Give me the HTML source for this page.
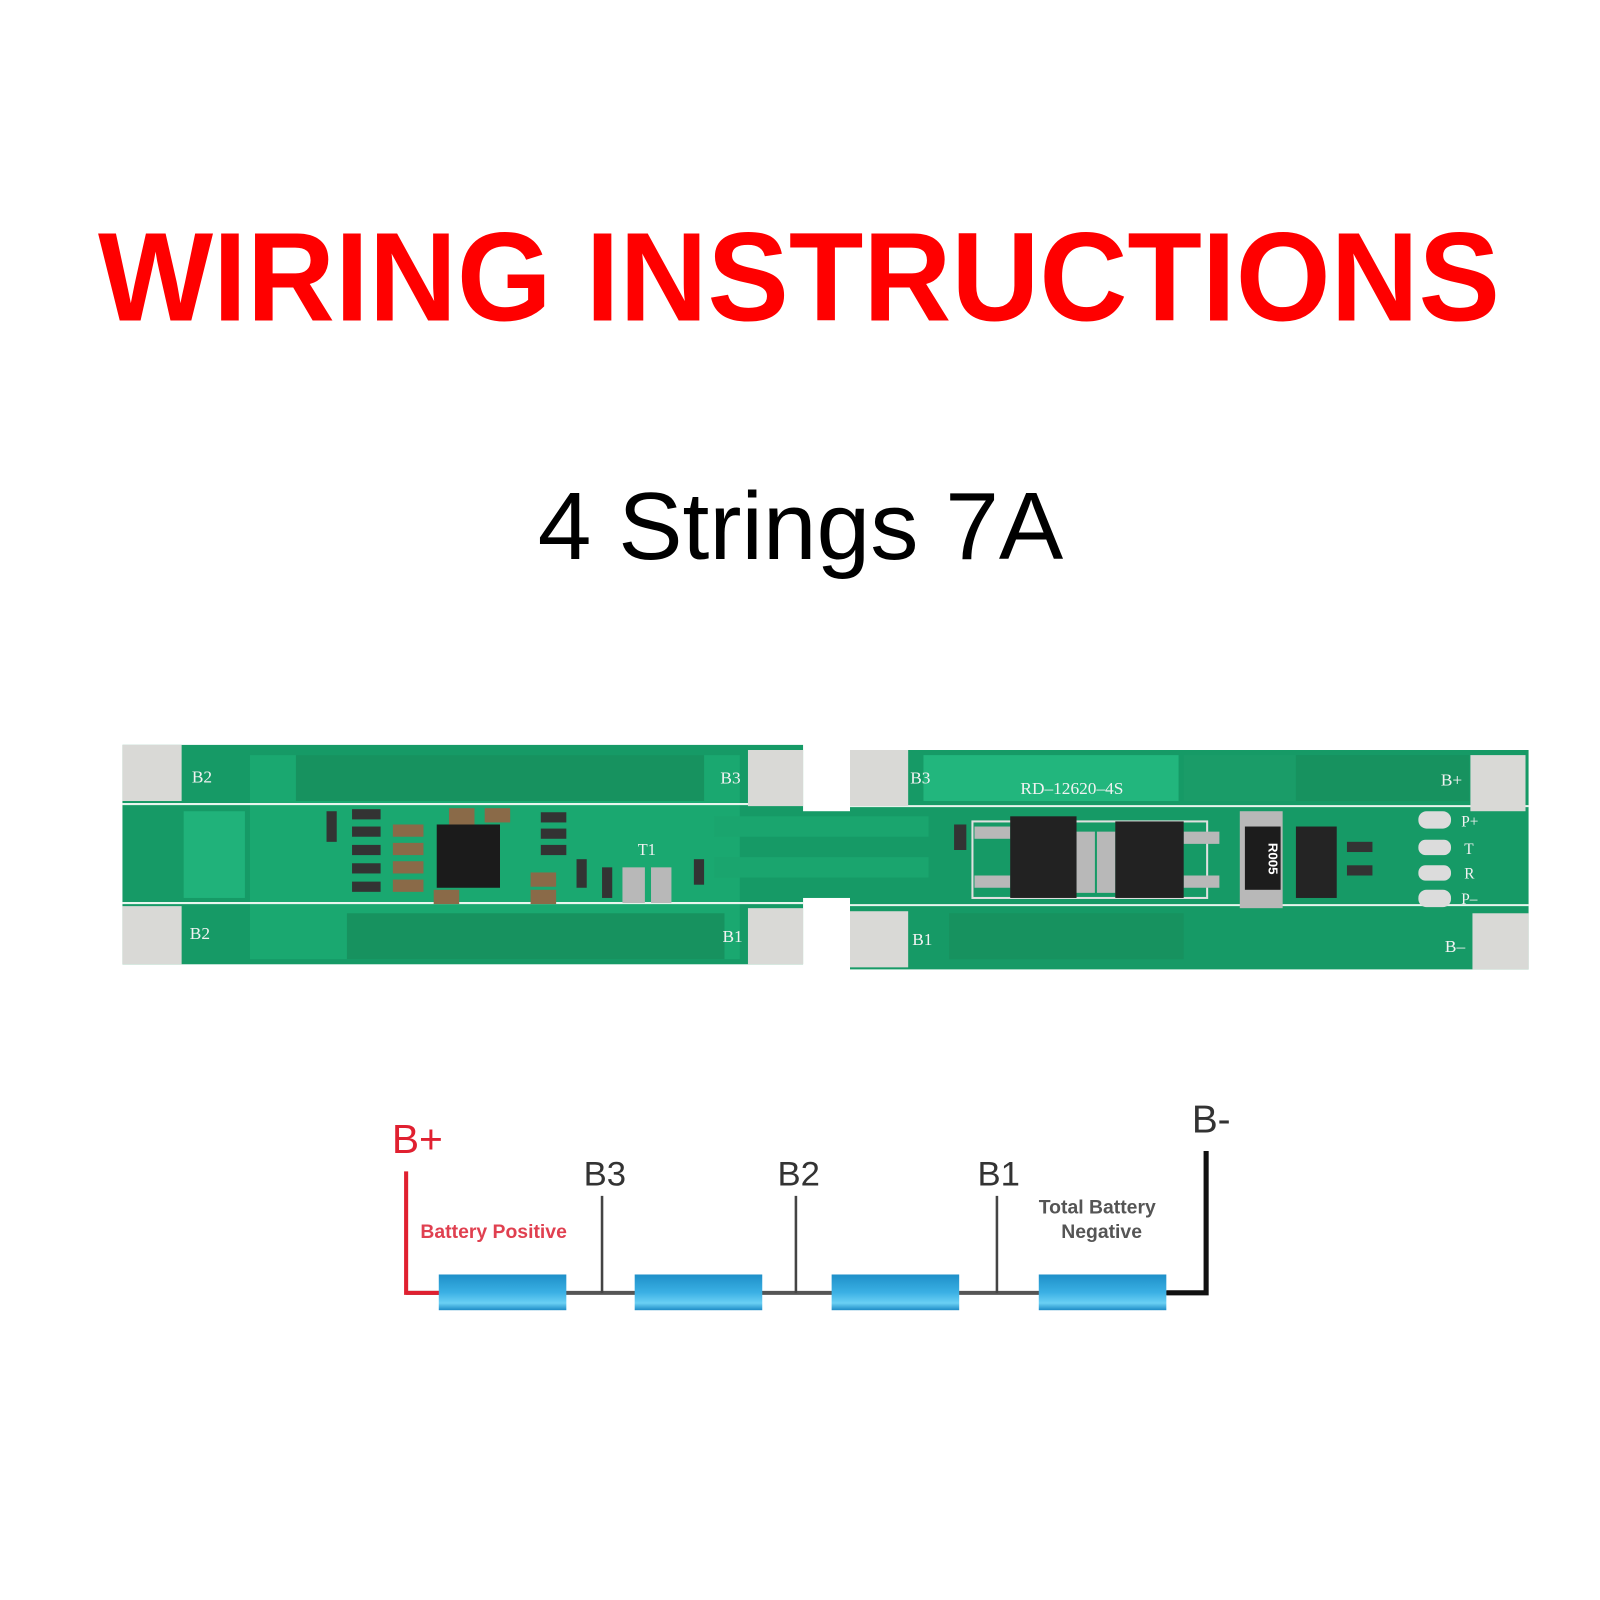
<!DOCTYPE html>
<html><head><meta charset="utf-8"><style>
html,body{margin:0;padding:0;background:#fff;width:1600px;height:1600px;overflow:hidden}
svg{display:block}
</style></head><body>
<svg width="1600" height="1600" viewBox="0 0 1568 1568" xmlns="http://www.w3.org/2000/svg">
<rect width="1568" height="1568" fill="#fff"/>
<text x="96" y="314" font-family="Liberation Sans, sans-serif" font-weight="bold" font-size="124" fill="#ff0000" textLength="1374" lengthAdjust="spacingAndGlyphs">WIRING INSTRUCTIONS</text>
<text x="527" y="548" font-family="Liberation Sans, sans-serif" font-size="94" fill="#000" textLength="515" lengthAdjust="spacingAndGlyphs">4 Strings 7A</text>

<!-- PCB -->
<g>
<rect x="120" y="730" width="667" height="215" fill="#169a66"/>
<rect x="833" y="735" width="665" height="215" fill="#169a66"/>
<rect x="780" y="795" width="60" height="85" fill="#169a66"/>
<rect x="245" y="740" width="480" height="200" fill="#1aa870"/>
<rect x="290" y="740" width="400" height="45" fill="#17925f"/>
<rect x="340" y="895" width="370" height="45" fill="#17925f"/>
<rect x="180" y="795" width="60" height="85" fill="#20b27a"/>
<rect x="905" y="740" width="250" height="45" fill="#22b67d"/>
<rect x="930" y="895" width="230" height="45" fill="#17925f"/>
<rect x="1160" y="740" width="110" height="45" fill="#1a9c68"/>
<rect x="1270" y="740" width="170" height="45" fill="#17925f"/>
<rect x="700" y="800" width="210" height="20" fill="#1aa56e"/>
<rect x="700" y="840" width="210" height="20" fill="#1aa56e"/>
<line x1="120" y1="788" x2="787" y2="788" stroke="#e8f5ee" stroke-width="2"/>
<line x1="833" y1="790" x2="1498" y2="790" stroke="#e8f5ee" stroke-width="2"/>
<line x1="120" y1="885" x2="787" y2="885" stroke="#e8f5ee" stroke-width="2"/>
<line x1="833" y1="887" x2="1498" y2="887" stroke="#e8f5ee" stroke-width="2"/>
<g fill="#d9d9d6">
<rect x="120" y="730" width="58" height="55"/>
<rect x="120" y="888" width="58" height="57"/>
<rect x="733" y="735" width="54" height="55"/>
<rect x="733" y="890" width="54" height="55"/>
<rect x="833" y="735" width="57" height="55"/>
<rect x="833" y="893" width="57" height="55"/>
<rect x="1441" y="740" width="54" height="55"/>
<rect x="1443" y="895" width="55" height="55"/>
</g>
<g font-family="Liberation Serif, serif" font-size="17" fill="#f2f2f2">
<text x="188" y="767">B2</text><text x="186" y="920">B2</text>
<text x="706" y="768">B3</text><text x="708" y="923">B1</text>
<text x="892" y="768">B3</text><text x="894" y="926">B1</text>
<text x="1412" y="770">B+</text><text x="1416" y="933">B–</text>
<text x="1000" y="778" font-size="17">RD–12620–4S</text>
<text x="1432" y="810" font-size="15">P+</text><text x="1435" y="837" font-size="15">T</text>
<text x="1435" y="861" font-size="15">R</text><text x="1432" y="886" font-size="15">P–</text>
<text x="625" y="838" font-size="16">T1</text>
</g>
<g fill="#dcdcdc">
<rect x="1390" y="795" width="32" height="17" rx="8"/>
<rect x="1390" y="823" width="32" height="15" rx="7"/>
<rect x="1390" y="848" width="32" height="15" rx="7"/>
<rect x="1390" y="872" width="32" height="17" rx="8"/>
</g>
<rect x="428" y="808" width="62" height="62" fill="#1b1b1b"/>
<g fill="#b8b8b8">
<rect x="953" y="805" width="230" height="75" fill="none" stroke="#e0e0e0" stroke-width="2"/>
<rect x="955" y="810" width="35" height="12"/><rect x="955" y="858" width="35" height="12"/>
<rect x="1160" y="815" width="35" height="12"/><rect x="1160" y="858" width="35" height="12"/>
<rect x="1055" y="815" width="18" height="60"/><rect x="1075" y="815" width="18" height="60"/>
<rect x="1215" y="795" width="42" height="95"/>
<rect x="610" y="850" width="22" height="35"/><rect x="638" y="850" width="20" height="35"/>
</g>
<rect x="990" y="800" width="65" height="80" fill="#222"/>
<rect x="1093" y="805" width="67" height="75" fill="#222"/>
<rect x="1220" y="810" width="35" height="62" fill="#1c1c1c"/>
<text x="1243" y="826" font-family="Liberation Sans, sans-serif" font-size="13" font-weight="bold" fill="#fff" transform="rotate(90 1243 826)">R005</text>
<rect x="1270" y="810" width="40" height="70" fill="#242424"/>
<g fill="#8a6a48">
<rect x="385" y="808" width="30" height="12"/><rect x="385" y="826" width="30" height="12"/>
<rect x="385" y="844" width="30" height="12"/><rect x="385" y="862" width="30" height="12"/>
<rect x="440" y="792" width="25" height="16"/><rect x="475" y="792" width="25" height="14"/>
<rect x="520" y="855" width="25" height="14"/><rect x="520" y="872" width="25" height="14"/>
<rect x="425" y="872" width="25" height="14"/>
</g>
<g fill="#333">
<rect x="345" y="793" width="28" height="10"/><rect x="345" y="810" width="28" height="10"/>
<rect x="345" y="828" width="28" height="10"/><rect x="345" y="846" width="28" height="10"/>
<rect x="345" y="864" width="28" height="10"/><rect x="320" y="795" width="10" height="30"/>
<rect x="530" y="796" width="25" height="10"/><rect x="530" y="812" width="25" height="10"/>
<rect x="530" y="828" width="25" height="10"/><rect x="565" y="842" width="10" height="28"/>
<rect x="590" y="850" width="10" height="30"/><rect x="680" y="842" width="10" height="25"/>
<rect x="935" y="808" width="12" height="25"/><rect x="1320" y="825" width="25" height="10"/>
<rect x="1320" y="848" width="25" height="10"/>
</g>
</g>

<g>
<line x1="398" y1="1267" x2="1182" y2="1267" stroke="#555" stroke-width="4"/>
<polyline points="398,1148 398,1267 432,1267" fill="none" stroke="#e02030" stroke-width="4"/>
<polyline points="1143,1267 1182,1267 1182,1128" fill="none" stroke="#111" stroke-width="5"/>
<g stroke="#444" stroke-width="2.5">
<line x1="590" y1="1172" x2="590" y2="1267"/>
<line x1="780" y1="1172" x2="780" y2="1267"/>
<line x1="977" y1="1172" x2="977" y2="1267"/>
</g>
<defs><linearGradient id="bg" x1="0" y1="0" x2="0" y2="1">
<stop offset="0" stop-color="#1e8fc8"/><stop offset="0.5" stop-color="#3ab0e4"/><stop offset="0.8" stop-color="#6ad0f4"/><stop offset="1" stop-color="#1e8cc6"/></linearGradient></defs>
<g fill="url(#bg)">
<rect x="430" y="1249" width="125" height="35"/>
<rect x="622" y="1249" width="125" height="35"/>
<rect x="815" y="1249" width="125" height="35"/>
<rect x="1018" y="1249" width="125" height="35"/>
</g>
<g font-family="Liberation Sans, sans-serif">
<text x="384" y="1130" font-size="40" fill="#e02030">B+</text>
<text x="572" y="1162" font-size="34" fill="#333">B3</text>
<text x="762" y="1162" font-size="34" fill="#333">B2</text>
<text x="958" y="1162" font-size="34" fill="#333">B1</text>
<text x="1168" y="1110" font-size="38" fill="#333">B-</text>
<text x="412" y="1213" font-size="19" font-weight="bold" fill="#e04050">Battery Positive</text>
<text x="1018" y="1189" font-size="19" font-weight="bold" fill="#555">Total Battery</text>
<text x="1040" y="1213" font-size="19" font-weight="bold" fill="#555">Negative</text>
</g>
</g>
</svg>
</body></html>
